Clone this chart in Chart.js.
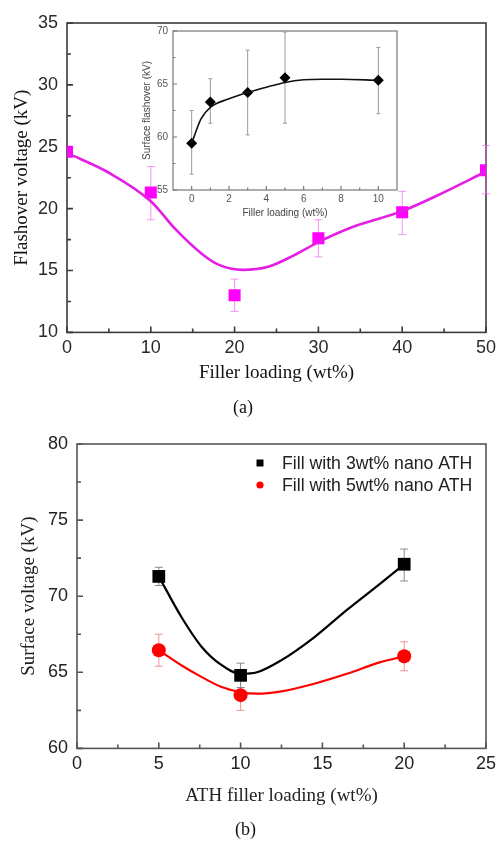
<!DOCTYPE html>
<html>
<head>
<meta charset="utf-8">
<title>Flashover / surface voltage vs filler loading</title>
<script src="https://cdn.jsdelivr.net/npm/chart.js@4.4.1/dist/chart.umd.min.js"></script>
<style>
  body { margin: 0; background: #fff; }
  #wrap { position: relative; width: 501px; height: 843px; }
  canvas { position: absolute; }
</style>
</head>
<body>
<div id="wrap">
  <canvas id="chart-a" width="501" height="420" style="left:0;top:0"></canvas>
  <canvas id="chart-inset" width="280" height="205" style="left:130px;top:20px"></canvas>
  <canvas id="chart-b" width="501" height="423" style="left:0;top:420px"></canvas>
</div>
<script>
// ---- (a) flashover voltage vs filler loading ----
const loadA = [0, 10, 20, 30, 40, 50]
const voltA = [24.6, 21.3, 13.0, 17.6, 19.7, 23.1]
const voltALo = [null, 19.1, 11.7, 16.1, 17.9, 21.2]
const voltAHi = [null, 23.4, 14.3, 19.1, 21.4, 25.1]
const fitAX = [0, 5, 10, 13, 16, 18, 21, 24, 27, 30, 34, 40, 44, 50]
const fitAY = [24.5, 22.9, 20.6, 18.3, 16.4, 15.5, 15.05, 15.3, 16.2, 17.3, 18.5, 19.8, 21.0, 23.0]
const ticksAX = [0, 10, 20, 30, 40, 50]
const ticksAY = [10, 15, 20, 25, 30, 35]

// ---- inset: surface flashover vs filler loading ----
const loadIn = [0, 1, 3, 5, 10]
const voltIn = [59.4, 63.3, 64.2, 65.6, 65.35]
const voltInLo = [56.5, 61.3, 60.2, 61.3, 62.2]
const voltInHi = [62.5, 65.5, 68.2, 69.9, 68.45]
const fitInX = [0, 0.5, 1, 2, 3, 4, 5, 6, 7, 8, 10]
const fitInY = [59.4, 61.7, 62.8, 63.6, 64.2, 64.7, 65.15, 65.4, 65.45, 65.45, 65.35]
const ticksInX = [0, 2, 4, 6, 8, 10]
const ticksInY = [55, 60, 65, 70]

// ---- (b) surface voltage vs ATH filler loading ----
const loadB = [5, 10, 20]
const volt3 = [71.3, 64.8, 72.1]
const volt3Lo = [70.7, 64.0, 71.0]
const volt3Hi = [71.9, 65.6, 73.1]
const volt5 = [66.45, 63.5, 66.05]
const volt5Lo = [65.4, 62.5, 65.1]
const volt5Hi = [67.5, 64.5, 67.0]
const fitBX = [5, 6.4, 7.6, 8.8, 10, 11, 12.5, 14.5, 16.5, 18.5, 20]
const fit3Y = [71.3, 68.6, 66.7, 65.5, 64.9, 65.0, 65.8, 67.3, 69.1, 70.8, 72.1]
const fit5Y = [66.45, 65.45, 64.7, 64.05, 63.7, 63.6, 63.75, 64.25, 64.9, 65.65, 66.05]
const ticksBX = [0, 5, 10, 15, 20, 25]
const ticksBY = [60, 65, 70, 75, 80]

const SANS = "'Liberation Sans', Arial, sans-serif"
const SERIF = "'Liberation Serif', 'Times New Roman', serif"

function pts(xs, ys) {
    return xs.map((x, i) => ({ x: x, y: ys[i] }))
}

// box round the plot area with inward major + minor ticks
const framePlugin = {
    id: 'frame',
    beforeDatasetsDraw(chart, args, opts) {
        const { ctx, chartArea: a, scales: { x, y } } = chart
        ctx.save()
        ctx.strokeStyle = opts.color
        ctx.lineWidth = opts.width
        ctx.strokeRect(a.left, a.top, a.right - a.left, a.bottom - a.top)
        ctx.beginPath()
        const xt = x.ticks.map(t => t.value)
        const yt = y.ticks.map(t => t.value)
        xt.forEach((v, i) => {
            const px = x.getPixelForValue(v)
            ctx.moveTo(px, a.bottom); ctx.lineTo(px, a.bottom - opts.major)
            if (i < xt.length - 1) {
                const mx = x.getPixelForValue((v + xt[i + 1]) / 2)
                ctx.moveTo(mx, a.bottom); ctx.lineTo(mx, a.bottom - opts.minor)
            }
        })
        yt.forEach((v, i) => {
            const py = y.getPixelForValue(v)
            ctx.moveTo(a.left, py); ctx.lineTo(a.left + opts.major, py)
            if (i < yt.length - 1) {
                const my = y.getPixelForValue((v + yt[i + 1]) / 2)
                ctx.moveTo(a.left, my); ctx.lineTo(a.left + opts.minor, my)
            }
        })
        ctx.stroke()
        ctx.restore()
    }
}

const errorBarPlugin = {
    id: 'errorBars',
    beforeDatasetsDraw(chart) {
        const { ctx, scales: { x, y } } = chart
        chart.data.datasets.forEach(ds => {
            if (!ds.errLo) return
            ctx.save()
            ctx.strokeStyle = ds.errColor
            ctx.lineWidth = ds.errWidth || 1
            ctx.beginPath()
            ds.data.forEach((p, i) => {
                if (ds.errLo[i] == null) return
                const px = x.getPixelForValue(p.x)
                const y1 = y.getPixelForValue(ds.errLo[i])
                const y2 = y.getPixelForValue(ds.errHi[i])
                const c = ds.errCap
                ctx.moveTo(px, y1); ctx.lineTo(px, y2)
                ctx.moveTo(px - c, y1); ctx.lineTo(px + c, y1)
                ctx.moveTo(px - c, y2); ctx.lineTo(px + c, y2)
            })
            ctx.stroke()
            ctx.restore()
        })
    }
}

// legend drawn inside the plot area (b)
const insideLegend = {
    id: 'insideLegend',
    afterDraw(chart, args, opts) {
        if (!opts.show) return
        const { ctx, chartArea: a } = chart
        const items = chart.data.datasets
            .filter(ds => ds.legendOrder)
            .sort((p, q) => p.legendOrder - q.legendOrder)
        ctx.save()
        ctx.font = opts.font
        ctx.textBaseline = 'middle'
        items.forEach((ds, i) => {
            const mx = a.left + opts.dx
            const my = a.top + opts.dy + i * opts.gap
            ctx.fillStyle = ds.backgroundColor
            ctx.beginPath()
            if (ds.pointStyle === 'circle') ctx.arc(mx, my, 3.6, 0, Math.PI * 2)
            else ctx.rect(mx - 3.5, my - 3.5, 7, 7)
            ctx.fill()
            ctx.fillStyle = opts.color
            ctx.fillText(ds.label, a.left + opts.textDx, my + 1)
        })
        ctx.restore()
    }
}

function axis(min, max, ticks, title, o) {
    return {
        type: 'linear',
        min: min,
        max: max,
        afterBuildTicks: s => { s.ticks = ticks.map(v => ({ value: v })) },
        afterFit: s => { if (s.isHorizontal()) s.height = o.size; else s.width = o.size },
        grid: { display: false, drawTicks: false },
        border: { display: false },
        ticks: { padding: o.pad, color: o.tickColor, font: o.tickFont, maxRotation: 0, autoSkip: false },
        title: { display: true, text: title, color: o.titleColor, font: o.titleFont, padding: o.titlePad }
    }
}

Chart.defaults.animation = false
Chart.defaults.responsive = false
Chart.defaults.plugins.legend.display = false
Chart.defaults.plugins.tooltip.enabled = false

// ---------- chart (a) ----------
new Chart(document.getElementById('chart-a').getContext('2d'), {
    type: 'scatter',
    data: {
        datasets: [{
            label: 'Fit',
            data: pts(fitAX, fitAY),
            showLine: true,
            borderColor: '#e41ee4',
            borderWidth: 2.6,
            pointRadius: 0,
            cubicInterpolationMode: 'monotone',
            clip: false
        }, {
            label: 'Flashover voltage',
            data: pts(loadA, voltA),
            pointStyle: 'rect',
            pointRadius: 8.5,
            backgroundColor: '#ff00ff',
            borderColor: '#ff00ff',
            borderWidth: 0,
            errLo: voltALo,
            errHi: voltAHi,
            errColor: 'rgba(240, 110, 240, 0.75)',
            errCap: 4
        }]
    },
    options: {
        layout: { padding: { left: 0, top: 23, right: 15, bottom: 0 } },
        scales: {
            x: axis(0, 50, ticksAX, 'Filler loading (wt%)', {
                size: 56, pad: 5, tickColor: '#2a2a2a', tickFont: { family: SANS, size: 18 },
                titleColor: '#111', titleFont: { family: SERIF, size: 19 }, titlePad: { top: 0, bottom: 4 }
            }),
            y: axis(10, 35, ticksAY, 'Flashover voltage (kV)', {
                size: 67, pad: 9, tickColor: '#2a2a2a', tickFont: { family: SANS, size: 18 },
                titleColor: '#111', titleFont: { family: SERIF, size: 19 }, titlePad: { top: 11, bottom: 0 }
            })
        },
        plugins: {
            title: {
                display: true, position: 'bottom', text: '(a)', color: '#111',
                font: { family: SERIF, size: 18, weight: 'normal' }, padding: { top: 9, bottom: 1 }
            },
            frame: { color: '#3a3a3a', width: 1.6, major: 6, minor: 4 }
        }
    },
    plugins: [framePlugin, errorBarPlugin]
})

// ---------- inset ----------
new Chart(document.getElementById('chart-inset').getContext('2d'), {
    type: 'scatter',
    data: {
        datasets: [{
            label: 'Fit',
            data: pts(fitInX, fitInY),
            showLine: true,
            borderColor: '#111',
            borderWidth: 1.6,
            pointRadius: 0,
            cubicInterpolationMode: 'monotone',
            clip: false
        }, {
            label: 'Surface flashover',
            data: pts(loadIn, voltIn),
            pointStyle: 'rectRot',
            pointRadius: 5.5,
            backgroundColor: '#000',
            borderColor: '#000',
            borderWidth: 0,
            errLo: voltInLo,
            errHi: voltInHi,
            errColor: '#9a9a9a',
            errCap: 2,
            clip: false
        }]
    },
    options: {
        layout: { padding: { left: 0, top: 9, right: 13, bottom: 0 } },
        scales: {
            x: axis(-1, 11, ticksInX, 'Filler loading (wt%)', {
                size: 35, pad: 3, tickColor: '#555', tickFont: { family: SANS, size: 10 },
                titleColor: '#444', titleFont: { family: SANS, size: 10 }, titlePad: { top: 0, bottom: 6 }
            }),
            y: axis(55, 70, ticksInY, 'Surface flashover (kV)', {
                size: 43, pad: 5, tickColor: '#555', tickFont: { family: SANS, size: 10 },
                titleColor: '#444', titleFont: { family: SANS, size: 10 }, titlePad: { top: 11, bottom: 0 }
            })
        },
        plugins: {
            frame: { color: '#777', width: 1.2, major: 4, minor: 2.5 }
        }
    },
    plugins: [framePlugin, errorBarPlugin]
})

// ---------- chart (b) ----------
new Chart(document.getElementById('chart-b').getContext('2d'), {
    type: 'scatter',
    data: {
        datasets: [{
            label: 'Fit 3wt%',
            data: pts(fitBX, fit3Y),
            showLine: true,
            borderColor: '#000',
            borderWidth: 2.2,
            pointRadius: 0,
            cubicInterpolationMode: 'monotone',
            clip: false
        }, {
            label: 'Fit 5wt%',
            data: pts(fitBX, fit5Y),
            showLine: true,
            borderColor: '#ff0000',
            borderWidth: 2.2,
            pointRadius: 0,
            cubicInterpolationMode: 'monotone',
            clip: false
        }, {
            label: 'Fill with 5wt% nano ATH',
            legendOrder: 2,
            data: pts(loadB, volt5),
            pointStyle: 'circle',
            pointRadius: 7,
            backgroundColor: '#ff0000',
            borderColor: '#ff0000',
            borderWidth: 0,
            errLo: volt5Lo,
            errHi: volt5Hi,
            errColor: 'rgba(240, 120, 120, 0.8)',
            errCap: 4,
            clip: false
        }, {
            label: 'Fill with 3wt% nano ATH',
            legendOrder: 1,
            data: pts(loadB, volt3),
            pointStyle: 'rect',
            pointRadius: 9,
            backgroundColor: '#000',
            borderColor: '#000',
            borderWidth: 0,
            errLo: volt3Lo,
            errHi: volt3Hi,
            errColor: '#8a8a8a',
            errCap: 4,
            clip: false
        }]
    },
    options: {
        layout: { padding: { left: 0, top: 24, right: 10, bottom: 0 } },
        scales: {
            x: axis(0, 25, ticksBX, 'ATH filler loading (wt%)', {
                size: 64, pad: 5, tickColor: '#222', tickFont: { family: SANS, size: 18 },
                titleColor: '#222', titleFont: { family: SERIF, size: 19 }, titlePad: { top: 0, bottom: 5 }
            }),
            y: axis(60, 80, ticksBY, 'Surface voltage (kV)', {
                size: 77, pad: 9, tickColor: '#222', tickFont: { family: SANS, size: 18 },
                titleColor: '#222', titleFont: { family: SERIF, size: 19 }, titlePad: { top: 18, bottom: 0 }
            })
        },
        plugins: {
            title: {
                display: true, position: 'bottom', text: '(b)', color: '#111',
                font: { family: SERIF, size: 18, weight: 'normal' }, padding: { top: 7, bottom: 2 }
            },
            frame: { color: '#555', width: 1.6, major: 6, minor: 4 },
            insideLegend: { show: true, dx: 183, dy: 19, gap: 22, textDx: 205, color: '#222', font: '17.7px ' + SANS }
        }
    },
    plugins: [framePlugin, errorBarPlugin, insideLegend]
})
</script>
</body>
</html>
